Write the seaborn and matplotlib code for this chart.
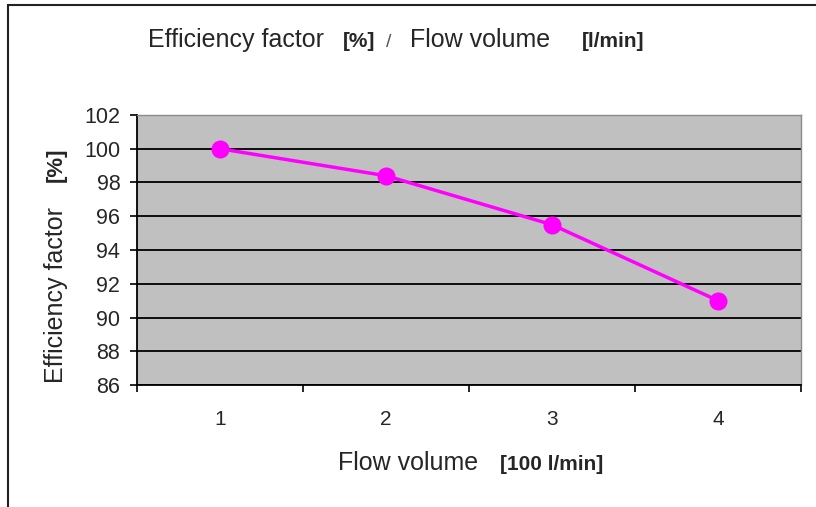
import matplotlib.pyplot as plt
import seaborn as sns
from matplotlib.patches import Rectangle

# values
flow_volume = [1, 2, 3, 4]
efficiency = [100.0, 98.4, 95.5, 91.0]
y_ticks = [86, 88, 90, 92, 94, 96, 98, 100, 102]

sns.set_theme(style="white")
plt.rcParams["font.family"] = ["Liberation Sans", "DejaVu Sans"]

W, H = 816, 507
fig = plt.figure(figsize=(W / 100, H / 100), dpi=100)
ax = fig.add_axes([137 / W, 1 - 385 / H, (801 - 137) / W, (385 - 115) / H])
ax.set_facecolor("#c0c0c0")

sns.lineplot(x=flow_volume, y=efficiency, ax=ax, color="#ff00ff", linewidth=2.5,
             marker="o", markersize=13, markeredgewidth=0)

ax.set_xlim(0.5, 4.5)
ax.set_ylim(86, 102)
ax.set_yticks(y_ticks)
ax.set_xticks(flow_volume)
ax.set_xticks([0.5, 1.5, 2.5, 3.5, 4.5], minor=True)
ax.tick_params(axis="x", which="major", bottom=True, length=0, pad=18, labelsize=15)
ax.tick_params(axis="x", which="minor", bottom=True, length=5, width=1.2,
               color="black", direction="out")
ax.tick_params(axis="y", left=True, length=5, width=1.2, color="black",
               direction="out", pad=7, labelsize=15.5)
ax.yaxis.grid(True, color="black", linewidth=1.3)
ax.set_axisbelow(True)
for side in ["left", "bottom"]:
    ax.spines[side].set_color("black")
    ax.spines[side].set_linewidth(1.3)
for side in ["top", "right"]:
    ax.spines[side].set_color("#8c8c8c")
    ax.spines[side].set_linewidth(1.0)
ax.set_xlabel("")
ax.set_ylabel("")

# outer chart frame
fig.patches.append(Rectangle((8 / W, -0.1), 2, 1.1 - 5 / H, transform=fig.transFigure,
                             fill=False, edgecolor="#222222", linewidth=1.5))


def px(x, y):
    return x / W, 1 - y / H


# title made of normal and bold pieces
fig.text(*px(148, 47), "Efficiency factor", fontsize=18, va="baseline")
fig.text(*px(343, 47), "[%]", fontsize=15, fontweight="bold", va="baseline")
fig.text(*px(386, 47), "/", fontsize=14, color="#555555", va="baseline")
fig.text(*px(410, 47), "Flow volume", fontsize=18, va="baseline")
fig.text(*px(582, 47), "[l/min]", fontsize=15, fontweight="bold", va="baseline")

# x label
fig.text(*px(338, 470), "Flow volume", fontsize=18, va="baseline")
fig.text(*px(500, 470), "[100 l/min]", fontsize=15, fontweight="bold", va="baseline")

# y label
fig.text(*px(56, 383), "Efficiency factor", fontsize=18, rotation=90, ha="center", va="bottom")
fig.text(*px(56, 148), "[%]", fontsize=16, fontweight="bold", rotation=90, ha="center", va="top")

fig.savefig("out.png", dpi=100)
